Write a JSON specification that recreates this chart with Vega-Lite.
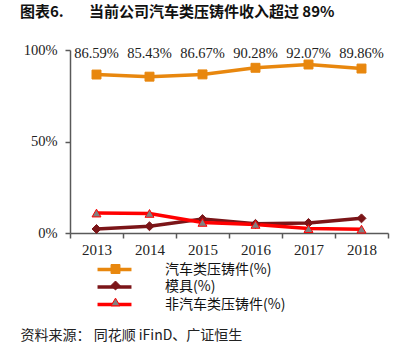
{
  "$schema": "https://vega.github.io/schema/vega-lite/v6.json",
  "width": 318,
  "height": 183,
  "autosize": "none",
  "padding": {"left": 70, "top": 50, "right": 18, "bottom": 125},
  "background": "white",
  "title": {
    "text": "图表6.\u3000\u00a0\u00a0\u00a0当前公司汽车类压铸件收入超过 89%",
    "anchor": "start",
    "frame": "group",
    "dx": -50,
    "offset": 22,
    "font": "Noto Sans CJK SC",
    "fontSize": 15,
    "fontWeight": "bold",
    "color": "#111111"
  },
  "config": {"view": {"stroke": null}},
  "data": {
    "values": [
      {"year": "2013", "series": "汽车类压铸件(%)", "value": 0.8659},
      {"year": "2014", "series": "汽车类压铸件(%)", "value": 0.8543},
      {"year": "2015", "series": "汽车类压铸件(%)", "value": 0.8667},
      {"year": "2016", "series": "汽车类压铸件(%)", "value": 0.9028},
      {"year": "2017", "series": "汽车类压铸件(%)", "value": 0.9207},
      {"year": "2018", "series": "汽车类压铸件(%)", "value": 0.8986},
      {"year": "2013", "series": "模具(%)", "value": 0.022},
      {"year": "2014", "series": "模具(%)", "value": 0.037},
      {"year": "2015", "series": "模具(%)", "value": 0.076},
      {"year": "2016", "series": "模具(%)", "value": 0.050},
      {"year": "2017", "series": "模具(%)", "value": 0.055},
      {"year": "2018", "series": "模具(%)", "value": 0.080},
      {"year": "2013", "series": "非汽车类压铸件(%)", "value": 0.109},
      {"year": "2014", "series": "非汽车类压铸件(%)", "value": 0.107},
      {"year": "2015", "series": "非汽车类压铸件(%)", "value": 0.058},
      {"year": "2016", "series": "非汽车类压铸件(%)", "value": 0.047},
      {"year": "2017", "series": "非汽车类压铸件(%)", "value": 0.024},
      {"year": "2018", "series": "非汽车类压铸件(%)", "value": 0.021}
    ]
  },
  "layer": [
    {
      "mark": {"type": "line", "strokeWidth": 3.5},
      "encoding": {
        "x": {
          "field": "year", "type": "ordinal", "bandPosition": 0.5,
          "scale": {"type": "band", "paddingInner": 0, "paddingOuter": 0},
          "axis": {
            "labelAngle": 0,
            "labelFont": "Liberation Serif",
            "labelFontSize": 15,
            "labelColor": "#222222",
            "labelPadding": 4,
            "domainColor": "#595959",
            "domainWidth": 1.5,
            "tickColor": "#595959",
            "tickWidth": 1.5,
            "tickSize": 5,
            "tickBand": "extent",
            "title": "资料来源： 同花顺 iFinD、广证恒生",
            "titleFont": "Noto Sans CJK SC",
            "titleFontSize": 14,
            "titleFontWeight": "normal",
            "titleColor": "#222222",
            "titleAlign": "left",
            "titleAnchor": "start",
            "titleBaseline": "middle",
            "titleX": -50,
            "titleY": 102
          }
        },
        "y": {
          "field": "value", "type": "quantitative",
          "scale": {"domain": [0, 1]},
          "axis": {
            "values": [0, 0.5, 1],
            "format": ".0%",
            "grid": false,
            "title": null,
            "labelFont": "Liberation Serif",
            "labelFontSize": 14.5,
            "labelColor": "#222222",
            "labelPadding": 8,
            "domainColor": "#595959",
            "domainWidth": 1.5,
            "tickColor": "#595959",
            "tickWidth": 1.5,
            "tickSize": 5
          }
        },
        "color": {
          "field": "series", "type": "nominal",
          "sort": ["汽车类压铸件(%)", "模具(%)", "非汽车类压铸件(%)"],
          "scale": {"range": ["#E8870E", "#7B1518", "#FF0000"]},
          "legend": {
            "orient": "none",
            "legendX": 37,
            "legendY": 212,
            "direction": "vertical",
            "title": null,
            "padding": 0,
            "symbolType": "M-3,0H3",
            "symbolSize": 128,
            "symbolStrokeWidth": 3.5,
            "labelFont": "Noto Sans CJK SC",
            "labelFontSize": 14,
            "labelColor": "#111111",
            "labelOffset": 43,
            "rowPadding": 2.5
          }
        }
      }
    },
    {
      "mark": {"type": "point", "filled": true, "size": 80, "strokeWidth": 1, "opacity": 1},
      "encoding": {
        "x": {"field": "year", "type": "ordinal", "bandPosition": 0.5},
        "y": {"field": "value", "type": "quantitative"},
        "shape": {
          "field": "series", "type": "nominal",
          "scale": {"domain": ["汽车类压铸件(%)", "模具(%)", "非汽车类压铸件(%)"], "range": ["square", "diamond", "triangle-up"]},
          "legend": {
            "orient": "none", "legendX": 38.5, "legendY": 212, "direction": "vertical",
            "title": null, "padding": 0, "symbolSize": 80, "symbolStrokeWidth": 1,
            "labelFont": "Noto Sans CJK SC", "labelFontSize": 14, "labelExpr": "''",
            "labelOffset": 43, "rowPadding": 2.5
          }
        },
        "fill": {
          "field": "series", "type": "nominal",
          "scale": {"domain": ["汽车类压铸件(%)", "模具(%)", "非汽车类压铸件(%)"], "range": ["#E8870E", "#7B1518", "#808080"]},
          "legend": {
            "orient": "none", "legendX": 38.5, "legendY": 212, "direction": "vertical",
            "title": null, "padding": 0, "symbolSize": 80, "symbolStrokeWidth": 1,
            "labelFont": "Noto Sans CJK SC", "labelFontSize": 14, "labelExpr": "''",
            "labelOffset": 43, "rowPadding": 2.5
          }
        },
        "stroke": {
          "field": "series", "type": "nominal",
          "scale": {"domain": ["汽车类压铸件(%)", "模具(%)", "非汽车类压铸件(%)"], "range": ["#E8870E", "#7B1518", "#FF0000"]},
          "legend": {
            "orient": "none", "legendX": 38.5, "legendY": 212, "direction": "vertical",
            "title": null, "padding": 0, "symbolSize": 80, "symbolStrokeWidth": 1,
            "labelFont": "Noto Sans CJK SC", "labelFontSize": 14, "labelExpr": "''",
            "labelOffset": 43, "rowPadding": 2.5
          }
        }
      }
    },
    {
      "transform": [{"filter": "datum.series === '汽车类压铸件(%)'"}],
      "mark": {"type": "text", "font": "Liberation Serif", "fontSize": 14.5, "color": "#222222", "baseline": "middle", "dy": 4},
      "encoding": {
        "x": {"field": "year", "type": "ordinal", "bandPosition": 0.5},
        "y": {"datum": 1},
        "text": {"field": "value", "type": "quantitative", "format": ".2%"}
      }
    }
  ]
}
